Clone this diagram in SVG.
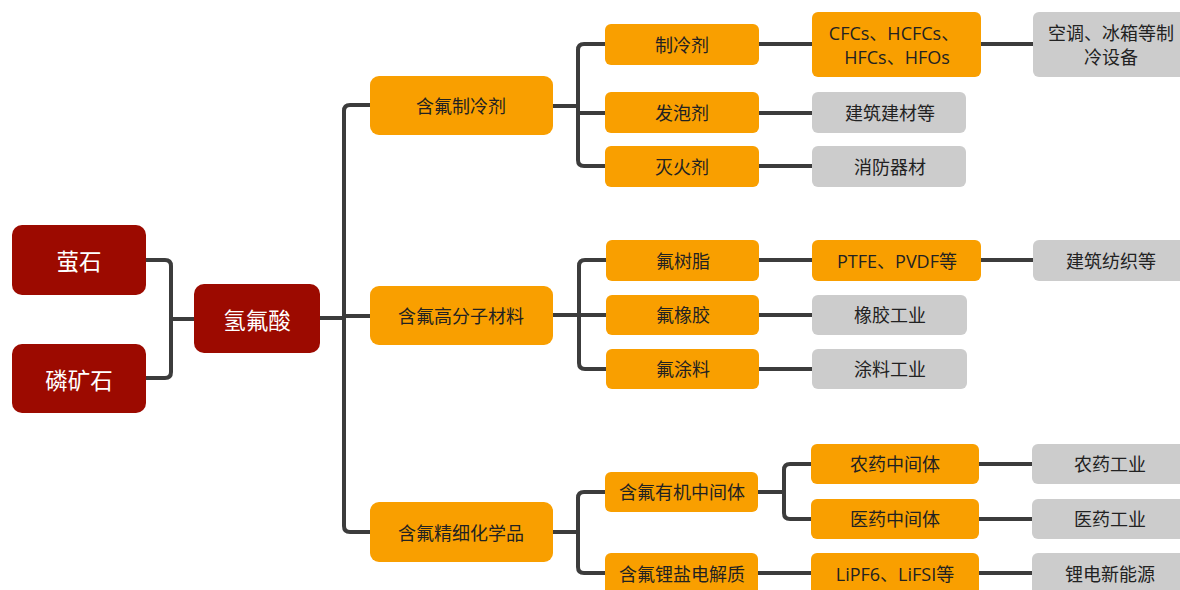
<svg xmlns="http://www.w3.org/2000/svg" width="1180" height="590" viewBox="0 0 1180 590">
<style>
.red{fill:#9C0A00;}
.org{fill:#F99F00;}
.gry{fill:#CCCCCC;}
text{font-family:"Open Sans","Noto Sans CJK SC",sans-serif;text-anchor:middle;dominant-baseline:central;}
.tw{fill:#FFFFFF;font-size:22.5px;}
.td{fill:#222222;font-size:18px;}
.con path{fill:none;stroke:#3C3C3C;stroke-width:4;}
</style>
<rect width="1180" height="590" fill="#FFFFFF"/>
<g class="con">
<path d="M146,260 H165 Q171,260 171,266 V372 Q171,378 165,378 H146"/>
<path d="M171,319 H194"/>
<path d="M320,318 H344"/>
<path d="M370,105 H350 Q344,105 344,111 V526 Q344,532 350,532 H370"/>
<path d="M344,316 H370"/>
<path d="M553,106 H578"/>
<path d="M605,44 H584 Q578,44 578,50 V160 Q578,166 584,166 H605"/>
<path d="M578,113 H605"/>
<path d="M759,44 H812"/>
<path d="M759,113 H812"/>
<path d="M759,166 H812"/>
<path d="M981,44 H1033"/>
<path d="M553,315 H579"/>
<path d="M606,260 H585 Q579,260 579,266 V363 Q579,369 585,369 H606"/>
<path d="M579,315 H606"/>
<path d="M759,260 H812"/>
<path d="M759,315 H812"/>
<path d="M759,369 H812"/>
<path d="M981,260 H1033"/>
<path d="M553,532 H578"/>
<path d="M605,492 H584 Q578,492 578,498 V567 Q578,573 584,573 H605"/>
<path d="M758,492 H784"/>
<path d="M811,464 H790 Q784,464 784,470 V513 Q784,519 790,519 H811"/>
<path d="M979,464 H1032"/>
<path d="M979,519 H1032"/>
<path d="M758,573 H811"/>
<path d="M979,573 H1032"/>
</g>
<g id="n-yingshi"><rect class="red" x="12" y="225" width="134" height="70" rx="10"/><text class="tw" x="79" y="261">萤石</text></g>
<g id="n-linkuangshi"><rect class="red" x="12" y="344" width="134" height="69" rx="10"/><text class="tw" x="79" y="380">磷矿石</text></g>
<g id="n-qingfusuan"><rect class="red" x="194" y="284" width="126" height="69" rx="10"/><text class="tw" x="257" y="320">氢氟酸</text></g>

<g id="n-zhilengji-group"><rect class="org" x="370" y="76" width="183" height="59" rx="9"/><text class="td" x="461" y="106">含氟制冷剂</text></g>
<g id="n-gaofenzi"><rect class="org" x="370" y="286" width="183" height="59" rx="9"/><text class="td" x="461" y="316">含氟高分子材料</text></g>
<g id="n-jingxi"><rect class="org" x="370" y="502" width="183" height="60" rx="9"/><text class="td" x="461" y="533">含氟精细化学品</text></g>

<g id="n-zhilengji"><rect class="org" x="605" y="24" width="154" height="41" rx="6"/><text class="td" x="682" y="45">制冷剂</text></g>
<g id="n-fapaoji"><rect class="org" x="605" y="92" width="154" height="41" rx="6"/><text class="td" x="682" y="113">发泡剂</text></g>
<g id="n-miehuoji"><rect class="org" x="605" y="146" width="154" height="41" rx="6"/><text class="td" x="682" y="167">灭火剂</text></g>

<g id="n-cfcs"><rect class="org" x="812" y="12" width="169" height="65" rx="6"/><text class="td" x="894" y="33">CFCs、HCFCs、</text><text class="td" x="897" y="57">HFCs、HFOs</text></g>
<g id="n-jianzhu"><rect class="gry" x="812" y="92" width="154" height="41" rx="6"/><text class="td" x="890" y="113">建筑建材等</text></g>
<g id="n-xiaofang"><rect class="gry" x="812" y="146" width="154" height="41" rx="6"/><text class="td" x="890" y="167">消防器材</text></g>
<g id="n-kongtiao"><rect class="gry" x="1033" y="12" width="156" height="65" rx="6"/><text class="td" x="1111" y="33">空调、冰箱等制</text><text class="td" x="1111" y="57">冷设备</text></g>

<g id="n-shuzhi"><rect class="org" x="606" y="240" width="153" height="41" rx="6"/><text class="td" x="683" y="261">氟树脂</text></g>
<g id="n-xiangjiao"><rect class="org" x="606" y="295" width="153" height="40" rx="6"/><text class="td" x="683" y="315">氟橡胶</text></g>
<g id="n-tuliao"><rect class="org" x="606" y="349" width="153" height="40" rx="6"/><text class="td" x="683" y="369">氟涂料</text></g>
<g id="n-ptfe"><rect class="org" x="812" y="240" width="169" height="41" rx="6"/><text class="td" x="897" y="261">PTFE、PVDF等</text></g>
<g id="n-xiangjiaogy"><rect class="gry" x="812" y="295" width="155" height="40" rx="6"/><text class="td" x="890" y="315">橡胶工业</text></g>
<g id="n-tuliaogy"><rect class="gry" x="812" y="349" width="155" height="40" rx="6"/><text class="td" x="890" y="369">涂料工业</text></g>
<g id="n-fangzhi"><rect class="gry" x="1033" y="240" width="156" height="41" rx="6"/><text class="td" x="1111" y="261">建筑纺织等</text></g>

<g id="n-youji"><rect class="org" x="605" y="472" width="153" height="40" rx="6"/><text class="td" x="682" y="492">含氟有机中间体</text></g>
<g id="n-lizy"><rect class="org" x="605" y="553" width="153" height="42" rx="6"/><text class="td" x="682" y="574">含氟锂盐电解质</text></g>
<g id="n-nongyaozj"><rect class="org" x="811" y="444" width="168" height="40" rx="6"/><text class="td" x="895" y="464">农药中间体</text></g>
<g id="n-yiyaozj"><rect class="org" x="811" y="499" width="168" height="40" rx="6"/><text class="td" x="895" y="519">医药中间体</text></g>
<g id="n-lipf6"><rect class="org" x="811" y="553" width="168" height="42" rx="6"/><text class="td" x="895" y="574">LiPF6、LiFSI等</text></g>
<g id="n-nongyaogy"><rect class="gry" x="1032" y="444" width="157" height="40" rx="6"/><text class="td" x="1110" y="464">农药工业</text></g>
<g id="n-yiyaogy"><rect class="gry" x="1032" y="499" width="157" height="40" rx="6"/><text class="td" x="1110" y="519">医药工业</text></g>
<g id="n-lidian"><rect class="gry" x="1032" y="553" width="157" height="42" rx="6"/><text class="td" x="1110" y="574">锂电新能源</text></g>
</svg>
